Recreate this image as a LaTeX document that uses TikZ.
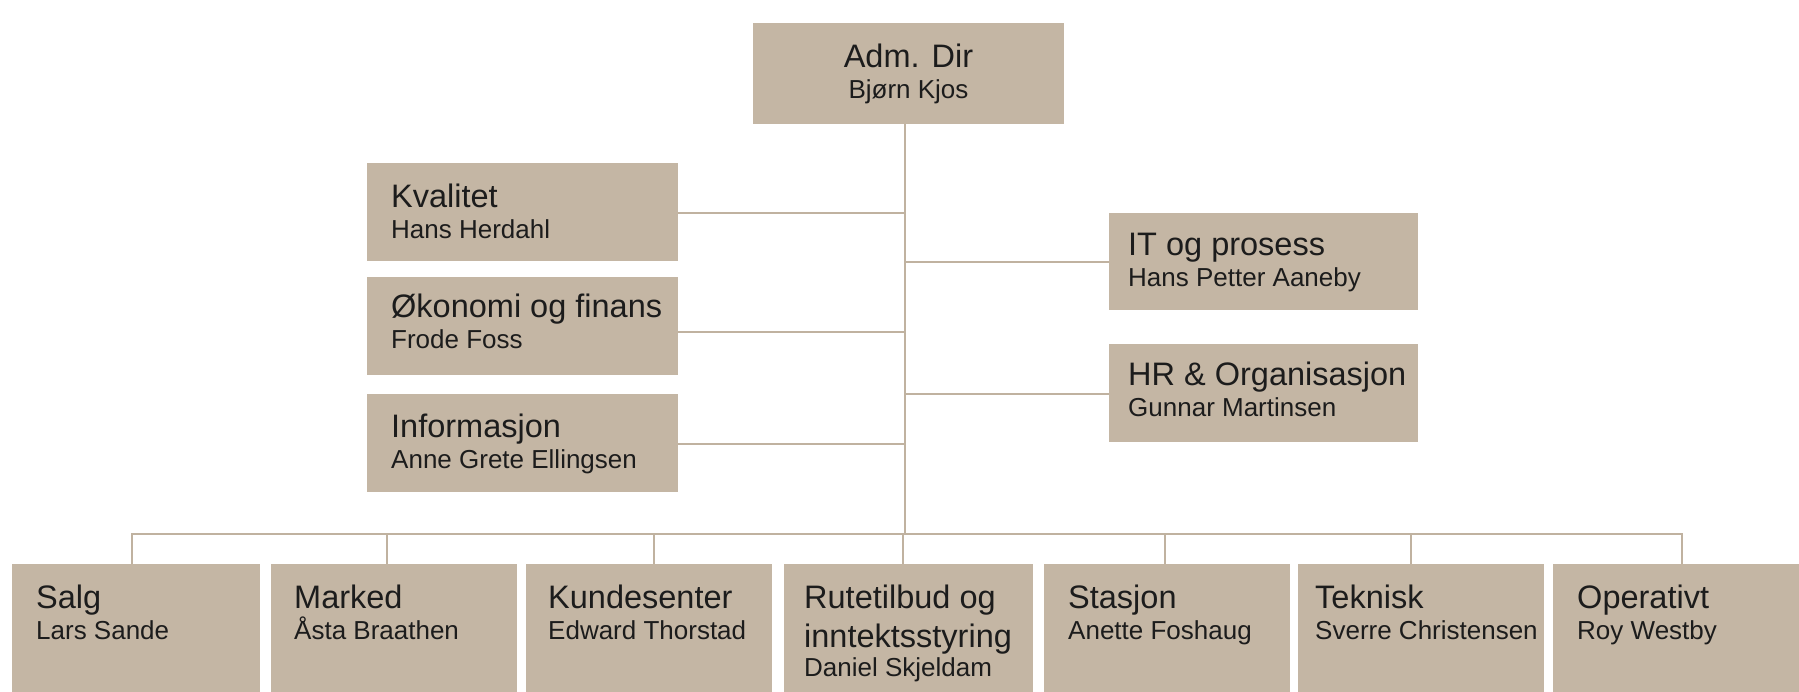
\documentclass[tikz,border=0pt]{standalone}
\usepackage{fontspec}
\setmainfont{Liberation Sans}
\definecolor{boxfill}{RGB}{196,182,164}
\definecolor{linkline}{RGB}{192,178,160}
\definecolor{ink}{RGB}{28,28,28}
% title line and name line of each unit
\newcommand\ttlfont{\fontsize{32.5}{31}\selectfont}
\newcommand\nmfont{\fontsize{26}{31}\selectfont}
\newcommand\orgtext[2]{\parbox[t]{330pt}{\ttlfont #1\\\nmfont #2}}

\begin{document}
\begin{tikzpicture}[x=1pt,y=-1pt,
  unit/.style={fill=boxfill, draw=none, inner sep=0pt, anchor=north west},
  lbl/.style={inner sep=0pt, anchor=base west, text=ink},
  link/.style={draw=linkline, line width=2pt}]
\useasboundingbox (0,0) rectangle (1799,691);
\clip (0,0) rectangle (1799,691);
\fill[white] (0,0) rectangle (1799,691);

% ---- management ----
\node[unit, minimum width=311pt, minimum height=101pt] (adm) at (753,23) {};
\node[lbl, anchor=base] (admT) at (908.5,67)
  {\parbox[t]{300pt}{\centering\ttlfont Adm. Dir\\\nmfont Bjørn Kjos}};

% ---- staff units, left ----
\node[unit, minimum width=311pt, minimum height=98pt] (kval) at (367,163) {};
\node[unit, minimum width=311pt, minimum height=98pt] (oko)  at (367,277) {};
\node[unit, minimum width=311pt, minimum height=98pt] (info) at (367,394) {};
\node[lbl] (kvalT) at (391,207) {\orgtext{Kvalitet}{Hans Herdahl}};
\node[lbl] (okoT)  at (391,317) {\orgtext{Økonomi og finans}{Frode Foss}};
\node[lbl] (infoT) at (391,437) {\orgtext{Informasjon}{Anne Grete Ellingsen}};

% ---- staff units, right ----
\node[unit, minimum width=309pt, minimum height=97pt] (it) at (1109,213) {};
\node[unit, minimum width=309pt, minimum height=98pt] (hr) at (1109,344) {};
\node[lbl] (itT) at (1128,255) {\orgtext{IT og prosess}{Hans Petter Aaneby}};
\node[lbl] (hrT) at (1128,385) {\orgtext{HR \& Organisasjon}{Gunnar Martinsen}};

% ---- line units ----
\node[unit, minimum width=248pt, minimum height=140pt] (salg)    at (12,564) {};
\node[unit, minimum width=246pt, minimum height=140pt] (marked)  at (271,564) {};
\node[unit, minimum width=246pt, minimum height=140pt] (kunde)   at (526,564) {};
\node[unit, minimum width=249pt, minimum height=140pt] (rute)    at (784,564) {};
\node[unit, minimum width=246pt, minimum height=140pt] (stasjon) at (1044,564) {};
\node[unit, minimum width=246pt, minimum height=140pt] (teknisk) at (1298,564) {};
\node[unit, minimum width=260pt, minimum height=140pt] (oper)    at (1553,564) {};

\node[lbl] (salgT)    at (36,608)   {\orgtext{Salg}{Lars Sande}};
\node[lbl] (markedT)  at (294,608)  {\orgtext{Marked}{Åsta Braathen}};
\node[lbl] (kundeT)   at (548,608)  {\orgtext{Kundesenter}{Edward Thorstad}};
\node[lbl] (ruteT)    at (804,608)
  {\parbox[t]{330pt}{\ttlfont Rutetilbud og\\[8pt]inntektsstyring\\[-1.5pt]\nmfont Daniel Skjeldam}};
\node[lbl] (stasjonT) at (1068,608) {\orgtext{Stasjon}{Anette Foshaug}};
\node[lbl] (tekniskT) at (1315,608) {\orgtext{Teknisk}{Sverre Christensen}};
\node[lbl] (operT)    at (1577,608) {\orgtext{Operativt}{Roy Westby}};

% ---- connectors ----
\coordinate (bus) at (905,534);
\coordinate (j1) at (905,213);
\coordinate (j2) at (905,332);
\coordinate (j3) at (905,444);
\coordinate (j4) at (905,262);
\coordinate (j5) at (905,394);
\draw[link] (adm.south -| bus) -- (bus);
\draw[link] (j1) -- (j1 -| kval.east);
\draw[link] (j2) -- (j2 -| oko.east);
\draw[link] (j3) -- (j3 -| info.east);
\draw[link] (j4) -- (j4 -| it.west);
\draw[link] (j5) -- (j5 -| hr.west);

\coordinate (d1) at (132,534);
\coordinate (d2) at (387,534);
\coordinate (d3) at (654,534);
\coordinate (d4) at (903,534);
\coordinate (d5) at (1165,534);
\coordinate (d6) at (1411,534);
\coordinate (d7) at (1682,534);
\draw[link] (d1 |- salg.north) -- (d1) -- (d7) -- (d7 |- oper.north);
\draw[link] (d2) -- (d2 |- marked.north);
\draw[link] (d3) -- (d3 |- kunde.north);
\draw[link] (d4) -- (d4 |- rute.north);
\draw[link] (d5) -- (d5 |- stasjon.north);
\draw[link] (d6) -- (d6 |- teknisk.north);
\end{tikzpicture}
\end{document}
